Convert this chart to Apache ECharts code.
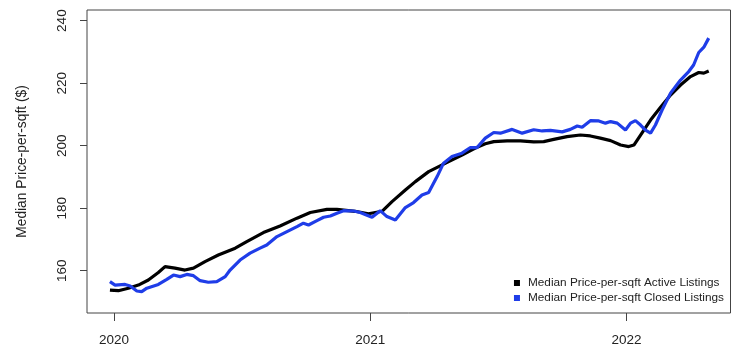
<!DOCTYPE html>
<html>
<head>
<meta charset="utf-8">
<script src="https://cdn.jsdelivr.net/npm/echarts@6/dist/echarts.min.js"></script>
<style>
html,body{margin:0;padding:0;background:#fff;}
#chart{width:741px;height:363px;}
</style>
</head>
<body>
<div id="chart"></div>
<script>
// Decimal-year positions and values
const activeYears = [2019.984,2020.017,2020.056,2020.095,2020.134,2020.173,2020.199,2020.238,2020.277,2020.310,2020.355,2020.407,2020.473,2020.518,2020.583,2020.648,2020.714,2020.766,2020.831,2020.870,2020.941,2020.993,2021.046,2021.085,2021.137,2021.176,2021.228,2021.267,2021.306,2021.358,2021.410,2021.449,2021.482,2021.534,2021.586,2021.638,2021.677,2021.716,2021.768,2021.820,2021.859,2021.898,2021.938,2021.977,2022.009,2022.029,2022.055,2022.094,2022.133,2022.172,2022.211,2022.250,2022.282,2022.302,2022.321];
const activeValues = [153.8,153.6,154.4,155.4,157.0,159.4,161.3,160.8,160.2,160.8,162.9,165.0,167.2,169.3,172.2,174.3,176.8,178.6,179.6,179.6,179.0,178.2,179.0,182.1,185.8,188.5,191.7,193.3,194.9,197.0,199.2,200.6,201.3,201.5,201.5,201.2,201.3,202.0,202.9,203.4,203.1,202.4,201.6,200.2,199.7,200.2,203.4,208.2,212.3,216.2,219.4,222.1,223.4,223.2,223.9];

const closedYears = [2019.984,2020.004,2020.043,2020.063,2020.089,2020.108,2020.128,2020.173,2020.206,2020.232,2020.258,2020.284,2020.310,2020.336,2020.368,2020.401,2020.434,2020.453,2020.492,2020.531,2020.570,2020.596,2020.636,2020.675,2020.714,2020.739,2020.759,2020.792,2020.818,2020.844,2020.870,2020.896,2020.935,2020.961,2020.980,2021.007,2021.039,2021.065,2021.098,2021.137,2021.169,2021.202,2021.228,2021.261,2021.286,2021.319,2021.358,2021.391,2021.417,2021.449,2021.482,2021.508,2021.554,2021.593,2021.638,2021.671,2021.703,2021.749,2021.781,2021.808,2021.827,2021.859,2021.892,2021.918,2021.938,2021.964,2021.996,2022.016,2022.035,2022.055,2022.074,2022.094,2022.113,2022.139,2022.172,2022.211,2022.243,2022.262,2022.282,2022.302,2022.321];
const closedValues = [156.5,155.4,155.6,155.1,153.5,153.3,154.4,155.6,157.2,158.6,158.1,158.8,158.4,156.8,156.3,156.5,158.1,160.2,163.4,165.6,167.2,168.2,170.9,172.5,174.1,175.2,174.6,176.0,177.1,177.5,178.4,179.2,179.1,178.6,178.0,177.1,179.2,177.3,176.2,180.2,181.8,184.2,185.0,190.1,194.4,196.5,197.6,199.4,199.4,202.4,204.2,204.0,205.2,204.0,205.1,204.7,204.9,204.4,205.2,206.3,205.9,208.0,207.9,207.2,207.7,207.2,205.0,207.2,208.0,206.6,205.0,204.0,206.6,211.4,216.8,221.0,223.7,225.8,229.8,231.5,234.4];

const xTicks = [2020, 2021, 2022];
const yTicks = [160, 180, 200, 220, 240];
const seriesNames = ['Median Price-per-sqft Active Listings', 'Median Price-per-sqft Closed Listings'];
const yTitle = 'Median Price-per-sqft ($)';

const font = 'Liberation Sans, Arial, Helvetica, sans-serif';
const chart = echarts.init(document.getElementById('chart'), null, {renderer: 'canvas'});
chart.setOption({
  animation: false,
  backgroundColor: '#fff',
  grid: {left: 87, right: 10.5, top: 10, bottom: 50, show: true, borderColor: '#444', borderWidth: 1, backgroundColor: 'transparent'},
  legend: {
    orient: 'vertical', right: 12, bottom: 54,
    itemWidth: 6, itemHeight: 6, itemGap: 3, icon: 'rect',
    textStyle: {fontFamily: font, fontSize: 11.8, lineHeight: 12, color: '#222', padding: [0,0,0,3]},
    data: seriesNames.map(n => ({name: n}))
  },
  xAxis: {
    type: 'value', min: 2019.8945, max: 2022.406,
    axisLine: {show: false},
    splitLine: {show: false},
    axisTick: {show: true, customValues: xTicks, length: 8, lineStyle: {color: '#444'}},
    axisLabel: {customValues: xTicks, margin: 20, fontFamily: font, fontSize: 13.5, color: '#222', formatter: v => String(v)}
  },
  yAxis: {
    type: 'value', min: 146.46, max: 243.4,
    name: yTitle, nameLocation: 'middle', nameGap: 58, nameRotate: 90,
    nameTextStyle: {fontFamily: font, fontSize: 13.8, color: '#222'},
    axisLine: {show: false},
    splitLine: {show: false},
    axisTick: {show: true, customValues: yTicks, length: 7, lineStyle: {color: '#444'}},
    axisLabel: {customValues: yTicks, rotate: 90, margin: 18, fontFamily: font, fontSize: 13.5, color: '#222', formatter: v => String(v)}
  },
  series: [
    {name: seriesNames[0], type: 'line', showSymbol: false, itemStyle: {color: '#000'},
     lineStyle: {color: '#000', width: 3.2}, data: activeYears.map((t, i) => [t, activeValues[i]])},
    {name: seriesNames[1], type: 'line', showSymbol: false, itemStyle: {color: '#1f3de8'},
     lineStyle: {color: '#1f3de8', width: 3.2}, data: closedYears.map((t, i) => [t, closedValues[i]])}
  ]
});
</script>
</body>
</html>
